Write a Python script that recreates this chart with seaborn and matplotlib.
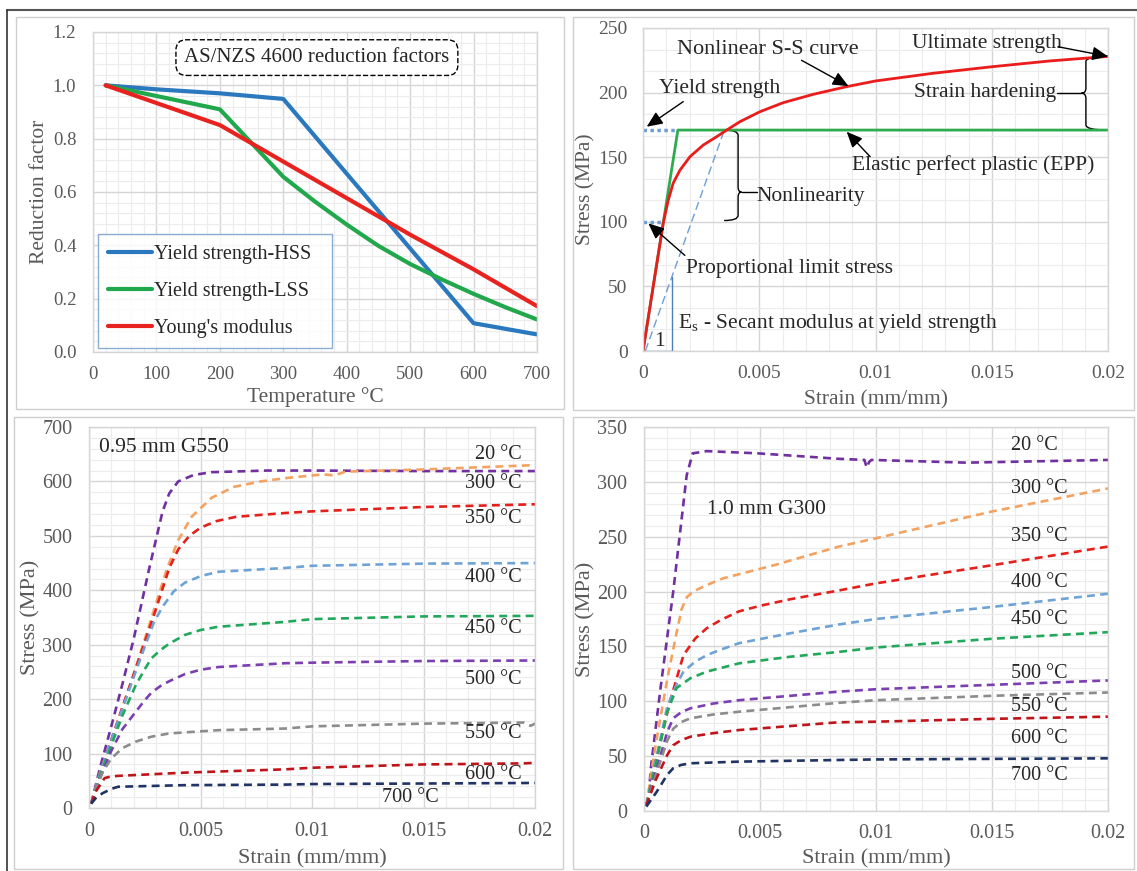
import numpy as np
import pandas as pd
import matplotlib
matplotlib.use("Agg")
import matplotlib.pyplot as plt
import seaborn as sns
from matplotlib.ticker import MultipleLocator, FuncFormatter
from matplotlib.path import Path
from matplotlib.patches import PathPatch, Rectangle
from matplotlib.lines import Line2D

# ---------------- Panel 1: AS/NZS 4600 reduction factors ----------------
TEMP_HSS = [20, 100, 200, 300, 600, 700]
RF_HSS = [1.0, 0.985, 0.970, 0.949, 0.108, 0.066]
TEMP_LSS = [20, 200, 300, 350, 400, 450, 500, 550, 600, 650, 700]
RF_LSS = [1.0, 0.910, 0.657, 0.564, 0.478, 0.398, 0.330, 0.272, 0.218, 0.168, 0.122]
TEMP_E = [20, 200, 300, 400, 500, 600, 700]
RF_E = [1.0, 0.851, 0.714, 0.577, 0.440, 0.310, 0.172]
P1_LABELS = ["Yield strength-HSS", "Yield strength-LSS", "Young's modulus"]
P1_COLORS = ["#2a78bd", "#22a84c", "#e8231f"]

# ---------------- Panel 2: schematic stress-strain ----------------
EPP_STRAIN = [0, 0.0015, 0.02]
EPP_STRESS = [0, 171, 171]
SS_STRAIN = [0, 0.00087, 0.00109, 0.0013, 0.00159, 0.00202, 0.00259, 0.00317, 0.0036,
             0.00417, 0.00503, 0.00603, 0.00733, 0.00876, 0.01, 0.0125, 0.015, 0.0175, 0.02]
SS_STRESS = [0, 99, 117, 130, 140, 150.4, 159.4, 165.9, 171, 177.5, 185.2, 192.2, 198.7,
             204.6, 209, 215, 220, 224.5, 228]
SECANT_STRAIN = [0.0001, 0.0035]
SECANT_STRESS = [0, 171]
YIELD_STRESS = 171
PROP_STRESS = 100
PROP_STRAIN = 0.00088
ULT_STRESS = 228
TRI_STRAIN = 0.00124

# ---------------- Panel 3: 0.95 mm G550 ----------------
TEMPS = ["20 °C", "300 °C", "350 °C", "400 °C", "450 °C", "500 °C", "550 °C", "600 °C", "700 °C"]
COLORS = ["#7030a0", "#f4a261", "#e3201b", "#6fa3d6", "#21a85a", "#7b3fb0", "#8c8c8c", "#c0141b", "#1f3464"]

G550_STRAIN = [
    [0.0001, 0.0005, 0.001, 0.0015, 0.002, 0.0027, 0.0033, 0.0036, 0.004, 0.0047, 0.0055, 0.008, 0.01, 0.015, 0.02],
    [0.0001, 0.0005, 0.001, 0.0015, 0.002, 0.0025, 0.003, 0.0035, 0.004, 0.0046, 0.0055, 0.0065, 0.0077, 0.0088, 0.0105, 0.011, 0.0115, 0.015, 0.02],
    [0.0001, 0.0005, 0.001, 0.0015, 0.002, 0.0025, 0.003, 0.0036, 0.004, 0.0045, 0.005, 0.0057, 0.0066, 0.0088, 0.01, 0.015, 0.02],
    [0.0001, 0.0005, 0.001, 0.0015, 0.002, 0.0024, 0.0029, 0.0033, 0.0038, 0.0043, 0.005, 0.0058, 0.0088, 0.01, 0.015, 0.02],
    [0.0001, 0.0005, 0.001, 0.0015, 0.0021, 0.0025, 0.0028, 0.0032, 0.0036, 0.0043, 0.005, 0.0058, 0.0088, 0.01, 0.015, 0.02],
    [0.0001, 0.0005, 0.001, 0.0015, 0.0021, 0.0025, 0.0028, 0.0032, 0.0036, 0.0043, 0.005, 0.0058, 0.0088, 0.01, 0.015, 0.02],
    [0.0001, 0.0003, 0.0006, 0.001, 0.0015, 0.0021, 0.0028, 0.0036, 0.0058, 0.0088, 0.01, 0.015, 0.0195, 0.0198, 0.02],
    [0.0001, 0.0003, 0.0007, 0.001, 0.0013, 0.0043, 0.0088, 0.01, 0.015, 0.0195, 0.02],
    [0.0001, 0.0003, 0.0006, 0.001, 0.0013, 0.0043, 0.0088, 0.01, 0.015, 0.02],
]
G550_STRESS = [
    [8, 75, 150, 228, 310, 440, 545, 578, 600, 612, 617, 620, 620, 619, 619],
    [8, 65, 125, 185, 245, 310, 375, 440, 492, 535, 570, 590, 600, 606, 613, 611, 618, 622, 630],
    [8, 65, 125, 185, 245, 305, 365, 441, 475, 500, 515, 527, 535, 542, 545, 553, 558],
    [8, 65, 125, 182, 240, 285, 340, 370, 398, 414, 426, 434, 441, 445, 449, 450],
    [8, 60, 115, 170, 226, 255, 275, 290, 302, 318, 327, 333, 342, 347, 352, 353],
    [8, 55, 105, 145, 177, 198, 212, 224, 233, 246, 254, 259, 266, 267, 270, 271],
    [8, 35, 65, 91, 110, 122, 131, 137, 143, 146, 150, 155, 157, 151, 155],
    [8, 30, 55, 58, 59, 65, 71, 74, 80, 82, 83],
    [8, 18, 27, 35, 39, 42, 43, 44, 45, 46],
]
G550_LABEL_Y = [649, 597, 532, 423, 330, 236, 137, 62, 19]

# ---------------- Panel 4: 1.0 mm G300 ----------------
G300_STRAIN = [
    [0.00025, 0.0003, 0.0007, 0.00126, 0.00184, 0.0021, 0.0027, 0.0049, 0.0084, 0.0095, 0.0096, 0.0097, 0.0098, 0.0139, 0.02],
    [0.0001, 0.0005, 0.001, 0.00141, 0.00162, 0.00185, 0.00212, 0.0026, 0.0034, 0.0056, 0.0084, 0.01, 0.015, 0.02],
    [0.0001, 0.0005, 0.00112, 0.0017, 0.0022, 0.0027, 0.0033, 0.0041, 0.005, 0.0063, 0.0084, 0.01, 0.015, 0.02],
    [0.0001, 0.0005, 0.001, 0.0014, 0.0017, 0.0022, 0.0027, 0.0033, 0.0041, 0.0063, 0.0084, 0.01, 0.015, 0.02],
    [0.0001, 0.0005, 0.001, 0.0014, 0.002, 0.0027, 0.0041, 0.0063, 0.0084, 0.01, 0.015, 0.02],
    [0.0001, 0.0005, 0.001, 0.00126, 0.0016, 0.002, 0.003, 0.0041, 0.0084, 0.01, 0.015, 0.02],
    [0.0001, 0.0005, 0.001, 0.00126, 0.0016, 0.002, 0.003, 0.0041, 0.0084, 0.01, 0.015, 0.02],
    [0.0001, 0.0005, 0.001, 0.00126, 0.0016, 0.002, 0.003, 0.0041, 0.0084, 0.01, 0.015, 0.02],
    [0.0001, 0.00055, 0.001, 0.00126, 0.0016, 0.002, 0.0041, 0.0084, 0.01, 0.015, 0.02],
]
G300_STRESS = [
    [27, 40, 110, 200, 306, 326, 328, 326, 321, 320, 313, 318, 320, 317.5, 320],
    [5, 60, 120, 163, 184, 195, 200, 205, 212, 224, 241, 248.6, 273, 294],
    [5, 45, 100, 142, 157, 166.5, 174, 182, 187, 193, 201, 207.5, 224, 241],
    [5, 45, 95, 115, 127, 136, 142, 147, 153, 162, 170, 175, 186, 198],
    [5, 42, 90, 112, 121, 127, 134.6, 140.6, 145, 149, 157, 163],
    [5, 35, 72, 84.5, 90, 93.6, 98, 101, 108.8, 111, 115, 119],
    [5, 32, 64, 75, 81, 84.5, 88, 90.5, 98.6, 101, 105, 108],
    [5, 28, 51, 60, 64.5, 67.7, 71, 73.8, 80.9, 81.4, 84, 86],
    [4, 17.6, 33, 39, 42, 43.5, 45, 46.5, 47, 47.5, 48],
]
G300_LABEL_Y = [333, 294, 250, 208, 175, 125.5, 95, 66, 32]

# ---------------- Style ----------------
sns.set_theme(style="whitegrid")
SERIF = ["Liberation Serif", "DejaVu Serif"]
plt.rcParams["font.family"] = SERIF
plt.rcParams["mathtext.fontset"] = "custom"
plt.rcParams["mathtext.rm"] = "Liberation Serif"
TICKC = "#595959"
MAJ = "#d6d6d6"
MIN = "#ececec"

W, H = 1137, 871
fig = plt.figure(figsize=(W / 100, H / 100), dpi=100)
fig.patch.set_facecolor("white")


def axes_px(left, top, right, bottom):
    return fig.add_axes([left / W, 1 - bottom / H, (right - left) / W, (bottom - top) / H])


def style_axes(ax, xmaj, xmin, ymaj, ymin, tick_fs, label_fs, xlabel, ylabel, xpad, ypad, xlp, ylp):
    ax.set_facecolor("white")
    ax.xaxis.set_major_locator(MultipleLocator(xmaj))
    ax.xaxis.set_minor_locator(MultipleLocator(xmin))
    ax.yaxis.set_major_locator(MultipleLocator(ymaj))
    ax.yaxis.set_minor_locator(MultipleLocator(ymin))
    ax.grid(which="major", color=MAJ, lw=1.0)
    ax.grid(which="minor", color=MIN, lw=0.8)
    ax.set_axisbelow(True)
    for s in ax.spines.values():
        s.set_color(MAJ)
        s.set_linewidth(1.0)
    ax.tick_params(which="both", length=0, labelsize=tick_fs, labelcolor=TICKC)
    ax.tick_params(axis="x", pad=xpad)
    ax.tick_params(axis="y", pad=ypad)
    ax.set_xlabel(xlabel, fontsize=label_fs, color=TICKC, labelpad=xlp)
    ax.set_ylabel(ylabel, fontsize=label_fs, color=TICKC, labelpad=ylp)


def strain_fmt(v, pos):
    if abs(v) < 1e-12:
        return "0"
    return ("%.3f" % v).rstrip("0")


def brace(ax, x, y0, y1, ym, w, tip, r):
    s = np.sign(y1 - y0)
    verts = [(x + w, y0), (x, y0), (x, y0 + s * r),
             (x, ym - s * r), (x, ym), (x - tip, ym),
             (x, ym), (x, ym + s * r),
             (x, y1 - s * r), (x, y1), (x + w, y1)]
    codes = [Path.MOVETO, Path.CURVE3, Path.CURVE3,
             Path.LINETO, Path.CURVE3, Path.CURVE3,
             Path.CURVE3, Path.CURVE3,
             Path.LINETO, Path.CURVE3, Path.CURVE3]
    ax.add_patch(PathPatch(Path(verts, codes), fill=False, lw=1.0, color="black"))


# ---------------- Panel 1 ----------------
ax1 = axes_px(93, 32, 537, 352)
for tx, rf, lab, col in zip([TEMP_HSS, TEMP_LSS, TEMP_E], [RF_HSS, RF_LSS, RF_E], P1_LABELS, P1_COLORS):
    sns.lineplot(x=tx, y=rf, ax=ax1, color=col, lw=3.0, label=lab, sort=False, estimator=None)
ax1.set_xlim(0, 700)
ax1.set_ylim(0, 1.2)
style_axes(ax1, 100, 20, 0.2, 0.04, 13.5, 15.5, "Temperature °C", "Reduction factor", 10, 12, 3, 3)
ax1.yaxis.set_major_formatter(FuncFormatter(lambda v, p: "%.1f" % v))
leg = ax1.legend(loc="lower left", bbox_to_anchor=(0.011, 0.012, 0.527, 0.35), mode="expand",
                 fontsize=14.5, frameon=True, fancybox=False, handlelength=2.2, handletextpad=0.1,
                 labelspacing=0.9, borderpad=0.5, borderaxespad=0)
leg.get_frame().set_edgecolor("#6d9ac7")
leg.get_frame().set_linewidth(1.0)
ax1.text(353, 1.104, "AS/NZS 4600 reduction factors", ha="center", va="center", fontsize=15,
         bbox=dict(boxstyle="round,pad=0.4,rounding_size=0.5", fc="white", ec="black", ls="--", lw=1.0))

# ---------------- Panel 2 ----------------
ax2 = axes_px(643, 28, 1108, 351)
sns.lineplot(x=SECANT_STRAIN, y=SECANT_STRESS, ax=ax2, color="#6d9ed4", lw=1.0, linestyle=(0, (6, 3)),
             sort=False, estimator=None)
tri_h = float(np.interp(TRI_STRAIN, SECANT_STRAIN, SECANT_STRESS))
ax2.plot([SECANT_STRAIN[0], TRI_STRAIN, TRI_STRAIN], [0, 0, tri_h], color="#4f7fb8", lw=1.0)
ax2.plot([0, EPP_STRAIN[1]], [YIELD_STRESS, YIELD_STRESS], color="#6d9ed4", lw=2.5, linestyle=(0, (1, 1)))
ax2.plot([0, PROP_STRAIN], [PROP_STRESS, PROP_STRESS], color="#6d9ed4", lw=2.5, linestyle=(0, (1, 1)))
sns.lineplot(x=EPP_STRAIN, y=EPP_STRESS, ax=ax2, color="#2eaa4f", lw=2.0, sort=False, estimator=None)
sns.lineplot(x=SS_STRAIN, y=SS_STRESS, ax=ax2, color="#ea1c1c", lw=2.0, sort=False, estimator=None)
ax2.set_xlim(0, 0.02)
ax2.set_ylim(0, 250)
style_axes(ax2, 0.005, 0.001, 50, 50 / 3, 14, 15.5, "Strain (mm/mm)", "Stress (MPa)", 10, 11, 6, 2)
ax2.xaxis.set_major_formatter(FuncFormatter(strain_fmt))

FS2 = 15.5
arrow_kw = dict(arrowstyle="-|>,head_length=0.8,head_width=0.35", color="black", lw=1.0, shrinkA=0, shrinkB=0)
ax2.text(0.00145, 233, "Nonlinear S-S curve", fontsize=16, va="center")
ax2.annotate("", xy=(0.00884, 205), xytext=(0.00682, 225), arrowprops=arrow_kw)
ax2.text(0.01155, 238, "Ultimate strength", fontsize=FS2, va="center")
ax2.annotate("", xy=(0.02, ULT_STRESS), xytext=(0.01785, 235.5), arrowprops=arrow_kw)
ax2.text(0.01164, 200, "Strain hardening", fontsize=FS2, va="center")
ax2.plot([0.0178, 0.01885], [199.5, 199.5], color="black", lw=1.0)
brace(ax2, 0.01905, ULT_STRESS, YIELD_STRESS, 199.5, 0.00095, 0.0002, 4)
ax2.text(0.00067, 203, "Yield strength", fontsize=FS2, va="center")
ax2.annotate("", xy=(0.00016, 173.6), xytext=(0.00173, 193), arrowprops=arrow_kw)
ax2.text(0.00899, 144, "Elastic perfect plastic (EPP)", fontsize=FS2, va="center")
ax2.annotate("", xy=(0.00876, 169.7), xytext=(0.00977, 150.4), arrowprops=arrow_kw)
ax2.text(0.0049, 119.5, "Nonlinearity", fontsize=FS2, va="center")
ax2.plot([0.00424, 0.0049], [123, 123], color="black", lw=1.0)
brace(ax2, 0.00409, YIELD_STRESS, PROP_STRESS + 1, 123, -0.0006, -0.00015, 4)
ax2.text(0.00184, 64, "Proportional limit stress", fontsize=FS2, va="center")
ax2.annotate("", xy=(0.00023, 98.8), xytext=(0.0018, 74), arrowprops=arrow_kw)
ax2.text(0.0015, 21.4, r"E$_\mathregular{s}$ - Secant modulus at yield strength", fontsize=FS2, va="center")
ax2.text(0.00072, 7.5, "1", fontsize=FS2, va="center", ha="center")

# ---------------- Panel 3 ----------------
ax3 = axes_px(89, 427, 535, 808)
for xs, ys, col in zip(G550_STRAIN, G550_STRESS, COLORS):
    sns.lineplot(x=xs, y=ys, ax=ax3, color=col, lw=1.9, linestyle=(0, (3, 2)), sort=False, estimator=None)
ax3.set_xlim(0, 0.02)
ax3.set_ylim(0, 700)
style_axes(ax3, 0.005, 0.001, 100, 20, 14.5, 16, "Strain (mm/mm)", "Stress (MPa)", 10, 12, 6, 1)
ax3.xaxis.set_major_formatter(FuncFormatter(strain_fmt))
for lab, ly in zip(TEMPS, G550_LABEL_Y):
    if lab == "700 °C":
        ax3.text(0.0144, ly, lab, fontsize=14.5, ha="center", va="center")
    else:
        ax3.text(0.0194, ly, lab, fontsize=14.5, ha="right", va="center")
ax3.text(0.00045, 663, "0.95 mm G550", fontsize=15.5, va="center")

# ---------------- Panel 4 ----------------
ax4 = axes_px(644, 427, 1108, 811)
for xs, ys, col in zip(G300_STRAIN, G300_STRESS, COLORS):
    sns.lineplot(x=xs, y=ys, ax=ax4, color=col, lw=1.9, linestyle=(0, (3, 2)), sort=False, estimator=None)
ax4.set_xlim(0, 0.02)
ax4.set_ylim(0, 350)
style_axes(ax4, 0.005, 0.001, 50, 10, 14.5, 16, "Strain (mm/mm)", "Stress (MPa)", 9, 12, 5, 1)
ax4.xaxis.set_major_formatter(FuncFormatter(strain_fmt))
for lab, ly in zip(TEMPS, G300_LABEL_Y):
    ax4.text(0.0158, ly, lab, fontsize=14.5, ha="left", va="center")
ax4.text(0.0027, 275, "1.0 mm G300", fontsize=15.5, va="center")

# ---------------- Frame lines ----------------
def fig_line(x0, y0, x1, y1, color, lw):
    fig.add_artist(Line2D([x0 / W, x1 / W], [1 - y0 / H, 1 - y1 / H], color=color, lw=lw,
                          transform=fig.transFigure))

def fig_rect(l, t, r, b, color="#cfcfcf", lw=1.0):
    fig.add_artist(Rectangle((l / W, 1 - b / H), (r - l) / W, (b - t) / H, fill=False,
                             ec=color, lw=lw, transform=fig.transFigure))

fig_line(7, 10, W, 10, "#555555", 1.5)
fig_line(7, 10, 7, H, "#333333", 1.2)
fig_rect(16, 17, 564, 409)
fig_rect(573, 17, 1134, 410)
fig_rect(14, 417, 563, 869)
fig_rect(573, 417, 1134, 869)

fig.savefig("out.png", dpi=100, facecolor="white")
